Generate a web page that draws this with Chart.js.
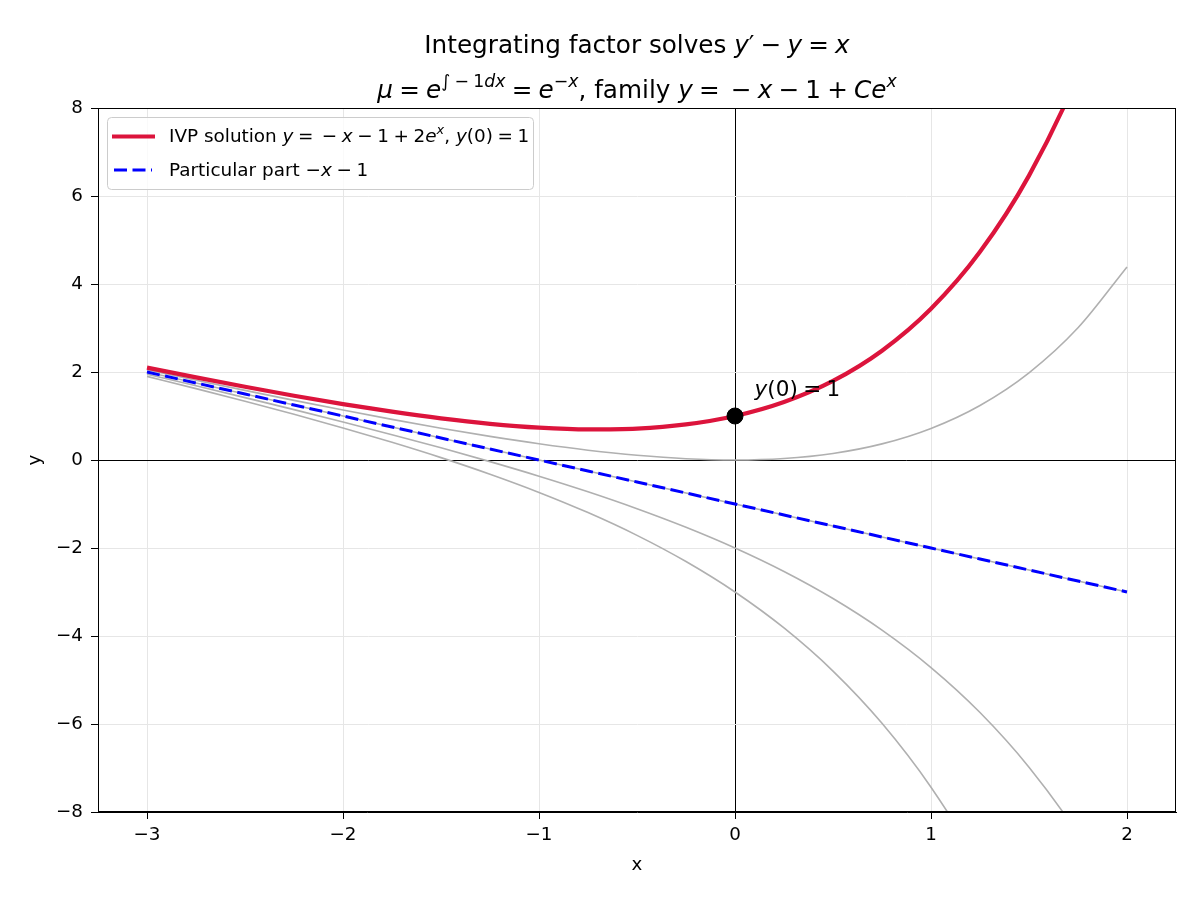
<!DOCTYPE html>
<html>
<head>
<meta charset="utf-8">
<script src="https://cdn.jsdelivr.net/npm/chart.js@4.4.0/dist/chart.umd.min.js"></script>
<style>
  html, body { margin: 0; padding: 0; background: #fff; }
</style>
</head>
<body>
<canvas id="chart" width="1200" height="900"></canvas>
<script>
// sample points (x) and curve values
const xValues = [-3, -2.75, -2.5, -2.25, -2, -1.75, -1.5, -1.25, -1, -0.75, -0.5, -0.25,
                 0, 0.25, 0.5, 0.75, 1, 1.25, 1.5, 1.75, 2];
const ivpValues = [2.10, 1.878, 1.664, 1.461, 1.271, 1.098, 0.946, 0.823, 0.736, 0.695, 0.713, 0.808,
                   1.0, 1.318, 1.797, 2.484, 3.437, 4.731, 6.463, 8.759, 11.778];
const particularValues = [2, 1.75, 1.5, 1.25, 1, 0.75, 0.5, 0.25, 0, -0.25, -0.5, -0.75,
                          -1, -1.25, -1.5, -1.75, -2, -2.25, -2.5, -2.75, -3];
const familyPlus1 = [2.050, 1.814, 1.582, 1.355, 1.135, 0.924, 0.723, 0.537, 0.368, 0.222, 0.107, 0.029,
                     0, 0.034, 0.149, 0.367, 0.718, 1.240, 1.982, 3.005, 4.389];
const familyMinus1 = [1.950, 1.686, 1.418, 1.145, 0.865, 0.576, 0.277, -0.037, -0.368, -0.722, -1.107, -1.529,
                      -2, -2.534, -3.149, -3.867, -4.718, -5.740, -6.982, -8.505, -10.389];
const familyMinus2 = [1.900, 1.622, 1.336, 1.039, 0.729, 0.402, 0.054, -0.323, -0.736, -1.195, -1.713, -2.308,
                      -3, -3.818, -4.797, -5.984, -7.437, -9.231, -11.463, -14.259, -17.778];
const initialX = [0];
const initialY = [1];
const xTicks = [-3, -2, -1, 0, 1, 2];
const yTicks = [-8, -6, -4, -2, 0, 2, 4, 6, 8];

const FONT = "'DejaVu Sans', sans-serif";
const S = '\u2005'; // math spacing, a bit narrower than a normal space

function toPoints(ys) {
    return xValues.map((x, i) => ({ x: x, y: ys[i] }));
}

// little rich-text helper: 'r' regular, 'i' italic, 's*' superscript
function segFont(style, size) {
    const sup = style[0] === 's';
    const it = style.indexOf('i') >= 0;
    return (it ? 'italic ' : '') + (sup ? size * 0.7 : size).toFixed(1) + 'px ' + FONT;
}
function richWidth(ctx, segs, size) {
    let w = 0;
    for (const [t, st] of segs) {
        ctx.font = segFont(st, size);
        w += ctx.measureText(t).width;
    }
    return w;
}
function drawRich(ctx, segs, x, y, size, align) {
    ctx.textAlign = 'left';
    ctx.textBaseline = 'alphabetic';
    let cx = align === 'center' ? x - richWidth(ctx, segs, size) / 2 : x;
    for (const [t, st] of segs) {
        ctx.font = segFont(st, size);
        const dy = st[0] === 's' ? -size * 0.45 : 0;
        ctx.fillText(t, cx, y + dy);
        cx += ctx.measureText(t).width;
    }
}

const title1 = [['Integrating factor solves ', 'r'], ['y', 'i'], ['\u2032' + S + '\u2212' + S, 'r'], ['y', 'i'],
                [S + '=' + S, 'r'], ['x', 'i']];
const title2 = [['\u03bc', 'i'], [S + '=' + S, 'r'], ['e', 'i'], ['\u222b' + S + '\u2212' + S + '1', 'sr'], ['dx', 'si'],
                [S + '=' + S, 'r'], ['e', 'i'], ['\u2212', 'sr'], ['x', 'si'], [', family ', 'r'], ['y', 'i'],
                [S + '=' + S + '\u2009\u2212' + S, 'r'], ['x', 'i'], [S + '\u2212' + S + '1' + S + '+' + S, 'r'],
                ['Ce', 'i'], ['x', 'si']];
const legendRed = [['IVP solution ', 'r'], ['y', 'i'], [S + '=' + S + '\u2009\u2212' + S, 'r'], ['x', 'i'],
                   [S + '\u2212' + S + '1' + S + '+' + S + '2', 'r'], ['e', 'i'], ['x', 'si'], [', ', 'r'], ['y', 'i'],
                   ['(0)' + S + '=' + S + '1', 'r']];
const legendBlue = [['Particular part \u2212', 'r'], ['x', 'i'], [S + '\u2212' + S + '1', 'r']];
const noteText = [['y', 'i'], ['(0)' + S + '=' + S + '1', 'r']];
const notePos = { x: 0.1, y: 1.5 };

const decor = {
    id: 'decor',
    afterDraw(chart) {
        const ctx = chart.ctx;
        const a = chart.chartArea;
        ctx.save();
        // frame
        ctx.strokeStyle = '#000';
        ctx.lineWidth = 1;
        ctx.strokeRect(a.left + 0.5, a.top + 0.5, a.right - a.left - 1, a.bottom - a.top - 1);

        ctx.fillStyle = '#000';
        drawRich(ctx, title1, (a.left + a.right) / 2, 53, 24.7, 'center');
        drawRich(ctx, title2, (a.left + a.right) / 2, 98, 24.7, 'center');

        // annotation
        const sx = chart.scales.x, sy = chart.scales.y;
        drawRich(ctx, noteText, sx.getPixelForValue(notePos.x), sy.getPixelForValue(notePos.y) + 2, 21.5, 'left');

        // legend
        const lx = 107, ly = 117, lw = 426, lh = 72;
        ctx.fillStyle = 'rgba(255,255,255,0.8)';
        ctx.strokeStyle = '#cccccc';
        ctx.lineWidth = 1;
        ctx.beginPath();
        ctx.roundRect(lx + 0.5, ly + 0.5, lw, lh, 4);
        ctx.fill();
        ctx.stroke();

        ctx.lineWidth = 4.2;
        ctx.strokeStyle = 'crimson';
        ctx.beginPath(); ctx.moveTo(112, 136.5); ctx.lineTo(155, 136.5); ctx.stroke();
        ctx.lineWidth = 3;
        ctx.strokeStyle = '#0000ff';
        ctx.setLineDash([13, 5.5]);
        ctx.beginPath(); ctx.moveTo(114, 170); ctx.lineTo(152, 170); ctx.stroke();
        ctx.setLineDash([]);

        ctx.fillStyle = '#000';
        drawRich(ctx, legendRed, 169, 142, 18.4, 'left');
        drawRich(ctx, legendBlue, 169, 176, 18.4, 'left');
        ctx.restore();
    }
};

const gridColor = c => (c.tick && c.tick.value === 0) ? '#000000' : '#e6e6e6';

new Chart(document.getElementById('chart'), {
    type: 'line',
    data: {
        datasets: [
            {
                label: 'y(0) = 1',
                type: 'scatter',
                data: initialX.map((x, i) => ({ x: x, y: initialY[i] })),
                backgroundColor: '#000',
                borderColor: '#000',
                pointRadius: 8,
                order: 0
            },
            {
                label: 'Particular part',
                data: toPoints(particularValues),
                borderColor: '#0000ff',
                borderWidth: 3,
                borderDash: [13, 5.5],
                pointRadius: 0,
                clip: 0,
                order: 1
            },
            {
                label: 'IVP solution',
                data: toPoints(ivpValues),
                borderColor: 'crimson',
                borderWidth: 4.2,
                cubicInterpolationMode: 'monotone',
                pointRadius: 0,
                clip: 0,
                order: 2
            },
            ...[familyPlus1, particularValues, familyMinus1, familyMinus2].map(ys => ({
                label: 'family',
                data: toPoints(ys),
                borderColor: '#b0b0b0',
                borderWidth: 1.6,
                cubicInterpolationMode: 'monotone',
                pointRadius: 0,
                clip: 0,
                order: 3
            }))
        ]
    },
    options: {
        responsive: false,
        animation: false,
        devicePixelRatio: 1,
        layout: { padding: { top: 108, right: 24, left: 0, bottom: 0 } },
        plugins: {
            legend: { display: false },
            tooltip: { enabled: false },
            title: { display: false }
        },
        scales: {
            x: {
                type: 'linear',
                min: -3.25,
                max: 2.25,
                afterBuildTicks: s => { s.ticks = xTicks.map(v => ({ value: v })); },
                afterFit: s => { s.height = 88; },
                grid: { color: gridColor, lineWidth: 1, tickColor: '#000', tickLength: 7 },
                border: { color: '#000', width: 1 },
                ticks: {
                    color: '#000',
                    font: { family: FONT, size: 18.3 },
                    padding: 5,
                    maxRotation: 0,
                    callback: v => String(v).replace('-', '\u2212')
                },
                title: { display: true, text: 'x', color: '#000', font: { family: FONT, size: 18.3 }, padding: { top: 0, bottom: 24 } }
            },
            y: {
                type: 'linear',
                min: -8,
                max: 8,
                afterBuildTicks: s => { s.ticks = yTicks.map(v => ({ value: v })); },
                afterFit: s => { s.width = 98; },
                grid: { color: gridColor, lineWidth: 1, tickColor: '#000', tickLength: 7 },
                border: { color: '#000', width: 1 },
                ticks: {
                    color: '#000',
                    font: { family: FONT, size: 18.3 },
                    padding: 8,
                    callback: v => String(v).replace('-', '\u2212')
                },
                title: { display: true, text: 'y', color: '#000', font: { family: FONT, size: 18.3 }, padding: { top: 24, bottom: 0 } }
            }
        }
    },
    plugins: [decor]
});
</script>
</body>
</html>
